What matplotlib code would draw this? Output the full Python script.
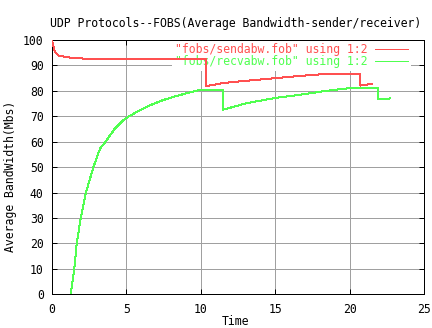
import matplotlib
matplotlib.use("Agg")
import matplotlib.pyplot as plt

# sender average bandwidth (fobs/sendabw.fob)
send_time = [0, 0.1, 0.2, 0.43, 1.2, 2.6, 10.33, 10.33, 11.5, 13.1, 15.0, 16.7, 18.5, 20.7, 20.7, 21.5]
send_bw = [100, 97.4, 95.4, 93.9, 93.1, 92.5, 92.5, 81.8, 83.1, 84.0, 85.0, 85.9, 86.7, 86.7, 82.1, 82.7]

# receiver average bandwidth (fobs/recvabw.fob)
recv_time = [1.25, 1.5, 1.66, 1.93, 2.28, 2.78, 3.23, 3.6, 4.2, 4.79, 5.24, 5.9, 6.7, 7.48,
             8.2, 8.82, 9.95, 11.5, 11.5, 13.1, 15.0, 16.7, 18.2, 20.0, 21.9, 21.9, 22.7]
recv_bw = [0, 10, 20, 30, 40, 50, 57.3, 60, 65, 68.5, 70.2, 72.4, 74.6, 76.4,
           77.7, 78.7, 80.4, 80.2, 72.6, 75.2, 77.2, 78.5, 79.8, 81.1, 81.1, 76.9, 77.0]

x_ticks = [0, 5, 10, 15, 20, 25]
y_ticks = [0, 10, 20, 30, 40, 50, 60, 70, 80, 90, 100]

TITLE = "UDP Protocols--FOBS(Average Bandwidth-sender/receiver)"
SEND_LABEL = '"fobs/sendabw.fob" using 1:2'
RECV_LABEL = '"fobs/recvabw.fob" using 1:2'

RED = "#ff5050"
GREEN = "#50ff50"
FONT = "DejaVu Sans Mono"
FS = 8.3

plt.rcParams["font.family"] = FONT
plt.rcParams["font.size"] = FS

fig = plt.figure(figsize=(4.32, 3.28), dpi=100)
ax = fig.add_axes([52 / 432, 1 - 294.3 / 328, 372 / 432, 254.3 / 328])

ax.plot(send_time, send_bw, color=RED, lw=0.72, label=SEND_LABEL, antialiased=False, zorder=3)
ax.plot(recv_time, recv_bw, color=GREEN, lw=0.72, label=RECV_LABEL, antialiased=False, zorder=3)

ax.set_xlim(0, 25)
ax.set_ylim(0, 100)
ax.set_xticks(x_ticks)
ax.set_yticks(y_ticks)
ax.grid(True, color="#a0a0a0", lw=0.72, zorder=0)
ax.set_axisbelow(True)
ax.tick_params(direction="in", length=3.6, width=0.72, top=True, right=True,
               labelsize=FS, pad=6)
for s in ax.spines.values():
    s.set_linewidth(0.72)

leg = ax.legend(loc="upper right", bbox_to_anchor=(0.965, 1.0), markerfirst=False,
                frameon=True, fancybox=False, edgecolor="none", facecolor="white",
                framealpha=1, borderpad=0.25, handlelength=2.9, handletextpad=0.65,
                labelspacing=-0.05, borderaxespad=0, labelcolor="linecolor")
leg.set_zorder(1.5)

fig.text(235.5 / 432, 1 - 23 / 328, TITLE, ha="center", va="center", fontsize=FS)
fig.text(236 / 432, 1 - 321.5 / 328, "Time", ha="center", va="center", fontsize=FS)
fig.text(11 / 432, 1 - 176 / 328, "Average BandWidth(Mbs)", ha="center", va="center",
         rotation=90, fontsize=FS)

fig.savefig("out.png", dpi=100)
